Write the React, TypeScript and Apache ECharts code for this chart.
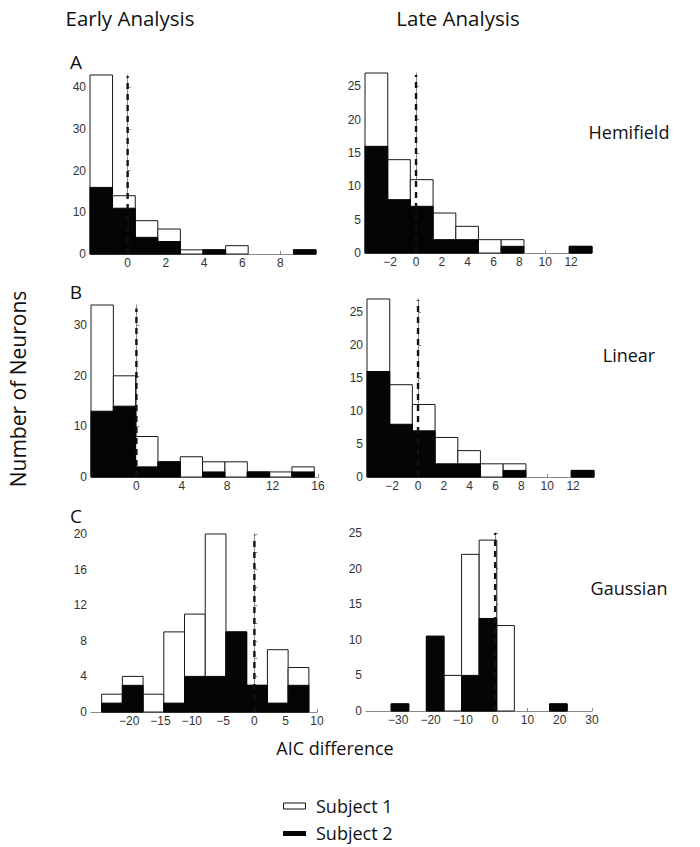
import React, { useEffect, useRef } from 'react';
import * as echarts from 'echarts';

// ---- Data ----
// Hemifield – early
const hemiEarlyEdges = [-1.97, -0.79, 0.4, 1.58, 2.76, 3.95, 5.13, 6.31, 7.49, 8.68, 9.86];
const hemiEarlyS1 = [43, 14, 8, 6, 1, 1, 2, 0, 0, 1];
const hemiEarlyS2 = [16, 11, 4, 3, 0, 1, 0, 0, 0, 1];
// Hemifield – late
const hemiLateEdges = [-3.95, -2.19, -0.44, 1.32, 3.08, 4.83, 6.59, 8.35, 10.1, 11.86, 13.62];
const hemiLateS1 = [27, 14, 11, 6, 4, 2, 2, 0, 0, 1];
const hemiLateS2 = [16, 8, 7, 2, 2, 0, 1, 0, 0, 1];
// Linear – early
const linEarlyEdges = [-4, -2.03, -0.07, 1.9, 3.87, 5.83, 7.8, 9.77, 11.74, 13.7, 15.67];
const linEarlyS1 = [34, 20, 8, 3, 4, 3, 3, 1, 1, 2];
const linEarlyS2 = [13, 14, 2, 3, 0, 1, 0, 1, 0, 1];
// Linear – late
const linLateEdges = [-3.95, -2.19, -0.44, 1.32, 3.08, 4.83, 6.59, 8.35, 10.1, 11.86, 13.62];
const linLateS1 = [27, 14, 11, 6, 4, 2, 2, 0, 0, 1];
const linLateS2 = [16, 8, 7, 2, 2, 0, 1, 0, 0, 1];
// Gaussian – early
const gaussEarlyEdges = [-24.4, -21.09, -17.78, -14.47, -11.16, -7.85, -4.54, -1.23, 2.08, 5.39, 8.7];
const gaussEarlyS1 = [2, 4, 2, 9, 11, 20, 9, 3, 7, 5];
const gaussEarlyS2 = [1, 3, 0, 1, 4, 4, 9, 3, 1, 3];
// Gaussian – late
const gaussLateEdges = [-32.2, -26.75, -21.3, -15.85, -10.4, -4.95, 0.5, 5.95, 11.4, 16.85, 22.3];
const gaussLateS1 = [1, 0, 10.5, 5, 22, 24, 12, 0, 0, 1];
const gaussLateS2 = [1, 0, 10.5, 0, 5, 13, 0, 0, 0, 1];

// Tick labels
const xTicksHemiEarly = [0, 2, 4, 6, 8];
const xTicksLate = [-2, 0, 2, 4, 6, 8, 10, 12];
const xTicksLinEarly = [0, 4, 8, 12, 16];
const xTicksGaussEarly = [-20, -15, -10, -5, 0, 5, 10];
const xTicksGaussLate = [-30, -20, -10, 0, 10, 20, 30];
const yTicksHemiEarly = [0, 10, 20, 30, 40];
const yTicksLate = [0, 5, 10, 15, 20, 25];
const yTicksLinEarly = [0, 10, 20, 30];
const yTicksGaussEarlyMinor = [0, 2, 4, 6, 8, 10, 12, 14, 16, 18, 20];
const yLabelsGaussEarly = [0, 4, 8, 12, 16, 20];

// Reference line (AIC difference = 0) top values
const refTop = [42.7, 26.7, 33.3, 26.8, 19.8, 25];

const FONT = 'Open Sans';
const TICKFONT = 'Liberation Sans';

const panels = [
  { edges: hemiEarlyEdges, s1: hemiEarlyS1, s2: hemiEarlyS2, grid: { left: 90, top: 75, width: 226, height: 179 }, x: [-1.97, 9.86], xt: xTicksHemiEarly, y: [0, 43], yt: yTicksHemiEarly, yl: yTicksHemiEarly },
  { edges: hemiLateEdges, s1: hemiLateS1, s2: hemiLateS2, grid: { left: 365, top: 73, width: 227, height: 180 }, x: [-3.95, 13.62], xt: xTicksLate, y: [0, 27], yt: yTicksLate, yl: yTicksLate },
  { edges: linEarlyEdges, s1: linEarlyS1, s2: linEarlyS2, grid: { left: 91, top: 305, width: 227, height: 172 }, x: [-4, 16], xt: xTicksLinEarly, y: [0, 34], yt: yTicksLinEarly, yl: yTicksLinEarly },
  { edges: linLateEdges, s1: linLateS1, s2: linLateS2, grid: { left: 367, top: 299, width: 227, height: 178 }, x: [-3.95, 13.62], xt: xTicksLate, y: [0, 27], yt: yTicksLate, yl: yTicksLate },
  { edges: gaussEarlyEdges, s1: gaussEarlyS1, s2: gaussEarlyS2, grid: { left: 91, top: 534, width: 226, height: 178 }, x: [-26.1, 10], xt: xTicksGaussEarly, y: [0, 20], yt: yTicksGaussEarlyMinor, yl: yLabelsGaussEarly },
  { edges: gaussLateEdges, s1: gaussLateS1, s2: gaussLateS2, grid: { left: 366, top: 533, width: 226, height: 178 }, x: [-40, 30], xt: xTicksGaussLate, y: [0, 25], yt: yTicksLate, yl: yTicksLate },
];

const fmt = (v: number) => String(v).replace('-', '\u2212');

function histData(edges: number[], counts: number[]) {
  const out: number[][] = [];
  counts.forEach((c, i) => {
    if (c > 0) out.push([edges[i], edges[i + 1], c]);
  });
  return out;
}

function makeRender(fill: string, stroke: string) {
  return (params: any, api: any) => {
    const p0 = api.coord([api.value(0), api.value(2)]);
    const p1 = api.coord([api.value(1), 0]);
    return {
      type: 'rect',
      shape: { x: p0[0], y: p0[1], width: p1[0] - p0[0], height: p1[1] - p0[1] },
      style: { fill, stroke, lineWidth: 1 },
    };
  };
}

export default function App() {
  const ref = useRef<HTMLDivElement>(null);
  useEffect(() => {
    if (!ref.current) return;
    const chart = echarts.init(ref.current, undefined, { renderer: 'svg' });
    const grids: any[] = [];
    const xAxes: any[] = [];
    const yAxes: any[] = [];
    const series: any[] = [];
    const axisLine = { show: true, lineStyle: { color: '#8a8a8a', width: 1 } };
    const axisLabelBase = { color: '#333', fontFamily: TICKFONT, fontSize: 12, formatter: fmt };
    panels.forEach((p, i) => {
      grids.push({ ...p.grid, containLabel: false });
      xAxes.push({
        type: 'value', gridIndex: i, min: p.x[0], max: p.x[1],
        axisLine, splitLine: { show: false },
        axisTick: { show: true, inside: true, length: 3, lineStyle: { color: '#8a8a8a' }, customValues: p.xt },
        axisLabel: { ...axisLabelBase, margin: 3, customValues: p.xt },
      });
      yAxes.push({
        type: 'value', gridIndex: i, min: p.y[0], max: p.y[1],
        axisLine, splitLine: { show: false },
        axisTick: { show: true, inside: true, length: 3, lineStyle: { color: '#8a8a8a' }, customValues: p.yt },
        axisLabel: { ...axisLabelBase, margin: 4, customValues: p.yl },
      });
      series.push({
        type: 'custom', name: 'Subject 1', xAxisIndex: i, yAxisIndex: i,
        renderItem: makeRender('#ffffff', '#1a1a1a'),
        encode: { x: [0, 1], y: 2 }, data: histData(p.edges, p.s1), z: 2,
      });
      series.push({
        type: 'custom', name: 'Subject 2', xAxisIndex: i, yAxisIndex: i,
        renderItem: makeRender('#050505', '#050505'),
        encode: { x: [0, 1], y: 2 }, data: histData(p.edges, p.s2), z: 3,
      });
      series.push({
        type: 'line', xAxisIndex: i, yAxisIndex: i, symbol: 'none', silent: true,
        data: [[0, 0], [0, refTop[i]]], z: 5,
        lineStyle: { color: '#111', width: 2.4, type: [6, 5] },
      });
    });

    const txt = (text: string, x: number, y: number, size: number, extra: any = {}) => ({
      type: 'text', x, y, ...extra,
      style: { text, fontFamily: FONT, fontSize: size, fill: '#111', textAlign: 'center', textVerticalAlign: 'middle' },
    });

    const graphic: any[] = [
      txt('Early Analysis', 130, 18, 20.5),
      txt('Late Analysis', 458, 18, 20.5),
      txt('A', 76, 62, 19),
      txt('B', 76, 292, 19),
      txt('C', 76, 516, 19),
      txt('Hemifield', 629, 132, 18),
      txt('Linear', 629, 355, 18),
      txt('Gaussian', 629, 588, 18),
      txt('Number of Neurons', 18, 389, 21, { rotation: Math.PI / 2 }),
      txt('AIC difference', 335, 748, 18),
      { type: 'rect', shape: { x: 283.5, y: 803, width: 22, height: 6 }, style: { fill: '#fff', stroke: '#111', lineWidth: 1 } },
      { type: 'text', x: 316, y: 806, style: { text: 'Subject 1', fontFamily: FONT, fontSize: 18, fill: '#111', textAlign: 'left', textVerticalAlign: 'middle' } },
      { type: 'rect', shape: { x: 283, y: 831, width: 23, height: 5 }, style: { fill: '#050505' } },
      { type: 'text', x: 316, y: 833, style: { text: 'Subject 2', fontFamily: FONT, fontSize: 18, fill: '#111', textAlign: 'left', textVerticalAlign: 'middle' } },
    ];

    chart.setOption({
      animation: false,
      backgroundColor: '#ffffff',
      grid: grids,
      xAxis: xAxes,
      yAxis: yAxes,
      series,
      graphic,
    });
    return () => chart.dispose();
  }, []);
  return <div ref={ref} style={{ position: 'absolute', left: 0, top: 0, width: 700, height: 847 }} />;
}
